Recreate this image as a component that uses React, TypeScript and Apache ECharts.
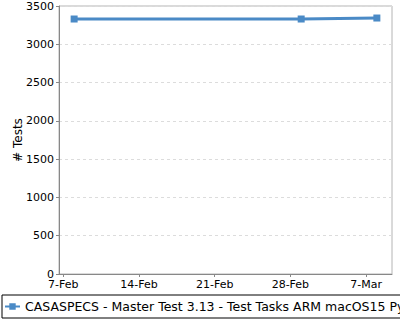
import React, { useEffect, useRef } from "react";
import * as echarts from "echarts";

const dates: number[] = [Date.UTC(2025, 1, 8), Date.UTC(2025, 2, 1), Date.UTC(2025, 2, 8)];
const tests: number[] = [3330, 3330, 3343];
const seriesName = "CASASPECS - Master Test 3.13 - Test Tasks ARM macOS15 Py3.12";
const tickDates: number[] = [
  Date.UTC(2025, 1, 7),
  Date.UTC(2025, 1, 14),
  Date.UTC(2025, 1, 21),
  Date.UTC(2025, 1, 28),
  Date.UTC(2025, 2, 7),
];
const tickLabels: string[] = ["7-Feb", "14-Feb", "21-Feb", "28-Feb", "7-Mar"];
const yTicks = { min: 0, max: 3500, interval: 500 };

const DAY = 86400000;

export default function App() {
  const ref = useRef<HTMLDivElement>(null);
  useEffect(() => {
    if (!ref.current) return;
    const chart = echarts.init(ref.current, null, { renderer: "svg" });
    const span = dates[dates.length - 1] - dates[0];
    const pad = span * 0.05;
    const font = "DejaVu Sans";
    chart.setOption({
      animation: false,
      textStyle: { fontFamily: font },
      grid: {
        left: 59,
        top: 6,
        right: 8,
        bottom: 46,
        containLabel: false,
        outerBoundsMode: "none",
        show: true,
        borderColor: "#b4b4b4",
        borderWidth: 1,
        backgroundColor: "#ffffff",
      },
      legend: {
        left: 2,
        top: 295,
        orient: "horizontal",
        borderColor: "#000",
        borderWidth: 1,
        padding: [5, 6, 5, 2],
        itemWidth: 15,
        itemHeight: 8,
        textStyle: { fontFamily: font, fontSize: 12.5, color: "#000" },
        data: [seriesName],
      },
      xAxis: {
        type: "value",
        min: dates[0] - pad,
        max: dates[dates.length - 1] + pad,
        axisLine: { show: true, lineStyle: { color: "#888", width: 1 } },
        axisTick: { show: true, length: 3, lineStyle: { color: "#888" }, customValues: tickDates },
        axisLabel: {
          fontFamily: font,
          fontSize: 11,
          color: "#000",
          margin: 5,
          customValues: tickDates,
          formatter: (v: number) => {
            const i = tickDates.findIndex((t) => Math.abs(t - v) < DAY / 2);
            return i >= 0 ? tickLabels[i] : "";
          },
        },
        splitLine: { show: false },
      },
      yAxis: {
        type: "value",
        min: yTicks.min,
        max: yTicks.max,
        interval: yTicks.interval,
        name: "# Tests",
        nameLocation: "middle",
        nameGap: 35,
        nameMoveOverlap: false,
        nameTextStyle: { fontFamily: font, fontSize: 12, color: "#000" },
        axisLine: { show: true, lineStyle: { color: "#888", width: 1 } },
        axisTick: { show: true, length: 3, lineStyle: { color: "#888" } },
        axisLabel: {
          fontFamily: font,
          fontSize: 11,
          color: "#000",
          margin: 5,
          formatter: (v: number) => String(v),
        },
        splitLine: { show: true, lineStyle: { color: "#dcdcdc", type: [3, 3], width: 1 } },
      },
      series: [
        {
          name: seriesName,
          type: "line",
          data: dates.map((d, i) => [d, tests[i]]),
          symbol: "rect",
          symbolSize: 7,
          showSymbol: true,
          lineStyle: { color: "#4a8ac6", width: 3 },
          itemStyle: { color: "#4a8ac6" },
        },
      ],
    });
    return () => chart.dispose();
  }, []);
  return (
    <div
      ref={ref}
      style={{ position: "fixed", left: 0, top: 0, width: 400, height: 320, background: "#fff" }}
    />
  );
}
